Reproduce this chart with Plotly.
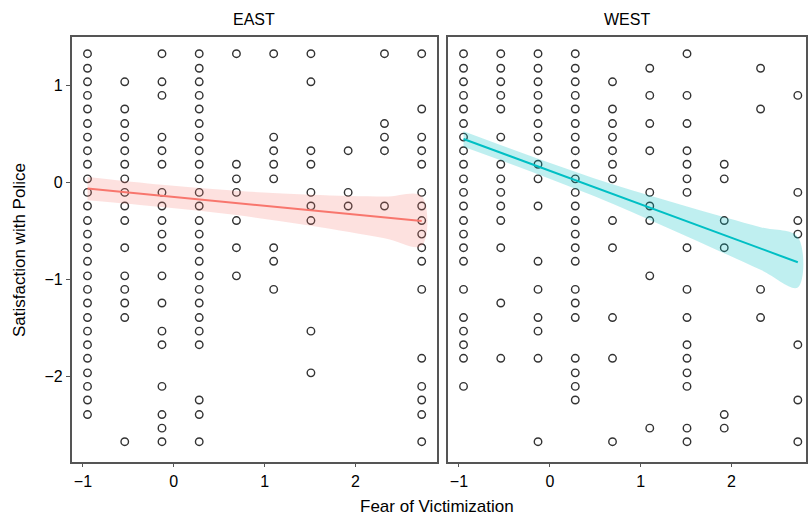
import plotly.graph_objects as go

# ---- data -------------------------------------------------------------
fear_levels = [-0.95, -0.54, -0.13, 0.28, 0.69, 1.10, 1.51, 1.92, 2.32, 2.73]

east_satisfaction = [
    [1.33, 1.18, 1.04, 0.90, 0.76, 0.61, 0.47, 0.33, 0.19, 0.04, -0.10, -0.24, -0.39, -0.53,
     -0.67, -0.81, -0.96, -1.10, -1.24, -1.39, -1.53, -1.67, -1.81, -1.96, -2.10, -2.24, -2.39],
    [1.04, 0.76, 0.61, 0.47, 0.33, 0.19, 0.04, -0.10, -0.24, -0.39, -0.67, -0.96, -1.10, -1.24,
     -1.39, -2.67],
    [1.33, 1.04, 0.90, 0.47, 0.33, 0.19, -0.10, -0.24, -0.39, -0.53, -0.67, -0.96, -1.24, -1.53,
     -1.67, -2.10, -2.39, -2.53, -2.67],
    [1.33, 1.18, 1.04, 0.90, 0.76, 0.61, 0.47, 0.33, 0.19, 0.04, -0.10, -0.24, -0.39, -0.53,
     -0.67, -0.81, -0.96, -1.10, -1.24, -1.39, -1.53, -1.67, -2.24, -2.39, -2.67],
    [1.33, 0.19, 0.04, -0.10, -0.39, -0.67, -0.96],
    [1.33, 0.47, 0.33, 0.19, 0.04, -0.67, -0.81, -1.10],
    [1.33, 1.04, 0.33, 0.19, -0.10, -0.24, -0.39, -1.53, -1.96],
    [0.33, -0.10, -0.24],
    [1.33, 0.61, 0.47, 0.33, -0.24],
    [1.33, 0.76, 0.47, 0.33, 0.19, -0.10, -0.24, -0.39, -0.53, -0.67, -0.81, -1.10, -1.81,
     -2.10, -2.24, -2.39, -2.67],
]

west_satisfaction = [
    [1.33, 1.18, 1.04, 0.90, 0.76, 0.61, 0.47, 0.33, 0.19, 0.04, -0.10, -0.24, -0.39, -0.53,
     -0.67, -0.81, -1.10, -1.39, -1.53, -1.67, -1.81, -2.10],
    [1.33, 1.18, 1.04, 0.90, 0.76, 0.47, 0.19, 0.04, -0.10, -0.24, -0.39, -0.67, -1.24, -1.81],
    [1.33, 1.18, 1.04, 0.90, 0.76, 0.61, 0.47, 0.33, 0.19, 0.04, -0.24, -0.81, -1.10, -1.39,
     -1.53, -1.81, -2.67],
    [1.33, 1.18, 1.04, 0.90, 0.76, 0.61, 0.47, 0.33, 0.19, 0.04, -0.10, -0.24, -0.39, -0.53,
     -0.67, -0.81, -1.10, -1.24, -1.39, -1.81, -1.96, -2.10, -2.24],
    [1.04, 0.76, 0.61, 0.47, 0.33, 0.19, 0.04, -0.39, -0.67, -1.39, -1.81, -2.67],
    [1.18, 0.90, 0.61, 0.33, -0.10, -0.24, -0.39, -0.96, -2.53],
    [1.33, 0.90, 0.61, 0.33, 0.19, 0.04, -0.10, -0.67, -1.10, -1.39, -1.67, -1.81, -1.96,
     -2.10, -2.53, -2.67],
    [0.19, 0.04, -0.39, -0.67, -2.39, -2.53],
    [1.18, 0.76, -1.10, -1.39],
    [0.90, -0.10, -0.39, -0.53, -1.67, -2.24, -2.67],
]

# fitted lines with confidence bands
fit_x = [-0.95, -0.13, 0.69, 1.51, 2.32, 2.73]
east_fit = [-0.06, -0.135, -0.209, -0.284, -0.358, -0.395]
east_hi = [0.06, -0.02, -0.084, -0.124, -0.143, -0.14]
east_lo = [-0.18, -0.25, -0.334, -0.444, -0.573, -0.65]
west_fit = [0.45, 0.167, -0.116, -0.399, -0.678, -0.82]
west_hi = [0.53, 0.247, -0.016, -0.244, -0.458, -0.56]
west_lo = [0.37, 0.087, -0.216, -0.554, -0.898, -1.08]

panels = ["EAST", "WEST"]
x_ticks = [-1, 0, 1, 2]
x_tick_text = ["\u22121", "0", "1", "2"]
y_ticks = [-2, -1, 0, 1]
y_tick_text = ["\u22122", "\u22121", "0", "1"]

# ---- figure -----------------------------------------------------------
W, H = 808, 515
FONT = "Liberation Sans, Arial, sans-serif"
fig = go.Figure()

def flat(levels, groups):
    xs, ys = [], []
    for xv, g in zip(levels, groups):
        for yv in g:
            xs.append(xv)
            ys.append(yv)
    return xs, ys

specs = [
    ("x", "y", east_satisfaction, east_fit, east_lo, east_hi, "#F8766D", "rgba(248,118,109,0.22)"),
    ("x2", "y2", west_satisfaction, west_fit, west_lo, west_hi, "#00BFC4", "rgba(0,191,196,0.25)"),
]
for xa, ya, groups, fit, lo, hi, col, fill in specs:
    xs, ys = flat(fear_levels, groups)
    fig.add_trace(go.Scatter(x=xs, y=ys, mode="markers", xaxis=xa, yaxis=ya,
                             marker=dict(symbol="circle-open", size=7.5, color="#333333",
                                         line=dict(width=1.4, color="#333333")),
                             showlegend=False, hoverinfo="skip"))
    fig.add_trace(go.Scatter(x=fit_x + fit_x[::-1], y=hi + lo[::-1], xaxis=xa, yaxis=ya,
                             mode="lines", fill="toself", fillcolor=fill,
                             line=dict(width=0, color=fill, shape="spline"),
                             showlegend=False, hoverinfo="skip"))
    fig.add_trace(go.Scatter(x=fit_x, y=fit, xaxis=xa, yaxis=ya, mode="lines",
                             line=dict(color=col, width=2),
                             showlegend=False, hoverinfo="skip"))

ydom = [1 - 461.7 / H, 1 - 37 / H]
axis_common = dict(showgrid=False, zeroline=False, showline=True, mirror=True,
                   linecolor="#555555", linewidth=1.5, ticks="outside", ticklen=4,
                   tickcolor="#555555", tickfont=dict(family=FONT, size=16, color="black"))

title_font = dict(family=FONT, size=17, color="black")
strip_font = dict(family=FONT, size=16, color="black")

fig.update_layout(
    width=W, height=H, margin=dict(l=0, r=0, t=0, b=0),
    paper_bgcolor="white", plot_bgcolor="white",
    xaxis=dict(domain=[71.7 / W, 436.7 / W], range=[-1.124, 2.895],
               tickvals=x_ticks, ticktext=x_tick_text, **axis_common),
    xaxis2=dict(domain=[448 / W, 806 / W], range=[-1.121, 2.82],
                tickvals=x_ticks, ticktext=x_tick_text, **axis_common),
    yaxis=dict(domain=ydom, range=[-2.876, 1.502], anchor="x",
               tickvals=y_ticks, ticktext=y_tick_text, **axis_common),
    yaxis2=dict(domain=ydom, range=[-2.876, 1.502], anchor="x2",
                tickvals=y_ticks, showticklabels=False, **dict(axis_common, ticks="")),
    annotations=[
        dict(text=panels[0], x=254 / W, y=1 - 19 / H, xref="paper", yref="paper",
             xanchor="center", yanchor="middle", showarrow=False, font=strip_font),
        dict(text=panels[1], x=627 / W, y=1 - 19 / H, xref="paper", yref="paper",
             xanchor="center", yanchor="middle", showarrow=False, font=strip_font),
        dict(text="Fear of Victimization", x=437 / W, y=1 - 506 / H, xref="paper", yref="paper",
             xanchor="center", yanchor="middle", showarrow=False, font=title_font),
        dict(text="Satisfaction with Police", x=19 / W, y=1 - 250 / H, xref="paper", yref="paper",
             xanchor="center", yanchor="middle", showarrow=False, textangle=-90, font=title_font),
    ],
)

fig.write_html("out.html", config={"displayModeBar": False},
               post_script="document.body.style.margin='0';document.body.style.overflow='hidden';")
